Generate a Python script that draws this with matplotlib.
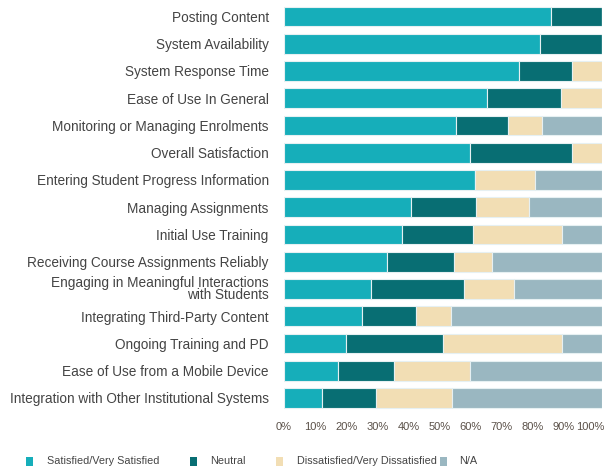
import matplotlib
matplotlib.use("Agg")
import matplotlib.pyplot as plt
from matplotlib.patches import Rectangle
import matplotlib.transforms as mtrans
import numpy as np

categories = [
    "Posting Content",
    "System Availability",
    "System Response Time",
    "Ease of Use In General",
    "Monitoring or Managing Enrolments",
    "Overall Satisfaction",
    "Entering Student Progress Information",
    "Managing Assignments",
    "Initial Use Training",
    "Receiving Course Assignments Reliably",
    "Engaging in Meaningful Interactions\nwith Students",
    "Integrating Third-Party Content",
    "Ongoing Training and PD",
    "Ease of Use from a Mobile Device",
    "Integration with Other Institutional Systems",
]
satisfied = [84, 80.5, 74, 64, 54, 58.5, 60, 40, 37, 32.5, 27.5, 24.5, 19.5, 17, 12]
neutral = [16, 19.5, 16.5, 23, 16.5, 32, 0, 20.5, 22.5, 21, 29, 17, 30.5, 17.5, 17]
dissatisfied = [0, 0, 9.5, 13, 10.5, 9.5, 19, 16.5, 28, 12, 16, 11, 37.5, 24, 24]
na = [0, 0, 0, 0, 19, 0, 21, 23, 12.5, 34.5, 27.5, 47.5, 12.5, 41.5, 47]
series_names = ["Satisfied/Very Satisfied", "Neutral", "Dissatisfied/Very Dissatisfied", "N/A"]
colors = ["#16AEBA", "#086E73", "#F2DEB4", "#9AB7C1"]
ticks = [0, 10, 20, 30, 40, 50, 60, 70, 80, 90, 100]

plt.rcParams['font.family'] = ['Liberation Sans', 'DejaVu Sans']
W, H = 608, 472
fig = plt.figure(figsize=(6.08, 4.72), dpi=100)
ax = fig.add_axes([0.467, 0.128, 0.523, 0.866])

y = np.arange(len(categories))
left = np.zeros(len(categories))
for vals, c, name in zip([satisfied, neutral, dissatisfied, na], colors, series_names):
    v = np.array(vals, dtype=float)
    ax.barh(y, v, left=left, height=0.73, color=c, edgecolor="#e6f0f2", linewidth=0.8, label=name)
    left += v

ax.set_ylim(len(categories) - 0.5, -0.5)
ax.set_xlim(0, 100)
ax.set_yticks(y)
ax.set_yticklabels(categories, fontsize=9.8, color="#444444", ha="right", multialignment="right", linespacing=0.82)
ax.set_xticks(ticks)
ax.set_xticklabels([])
ax.tick_params(axis="both", length=0)
ax.tick_params(axis="y", pad=11)
for s in ax.spines.values():
    s.set_visible(False)

# x tick labels drawn as text, slightly compressed spacing as in the reference
for t in ticks:
    dx = (t / 100) * 7 + (5 if t == 100 else 0)
    tr = ax.get_xaxis_transform() + mtrans.ScaledTranslation(-dx / 100, -15.5 / 100, fig.dpi_scale_trans)
    ax.text(t, 0, f"{t}%", transform=tr, fontsize=8, color="#5a5048", ha="center", va="center", clip_on=False)

# legend drawn manually (figure pixel layout)
patch_x = [26, 190, 276, 440]
text_x = [47, 210, 297, 459]
ly = 461
for name, c, px, tx in zip(series_names, colors, patch_x, text_x):
    fig.patches.append(Rectangle((px / W, 1 - (ly + 4.5) / H), 7 / W, 9 / H,
                                 transform=fig.transFigure, facecolor=c, edgecolor="none"))
    fig.text(tx / W, 1 - ly / H, name, fontsize=7.8, color="#444444", ha="left", va="center")

fig.savefig("out.png", dpi=100)
